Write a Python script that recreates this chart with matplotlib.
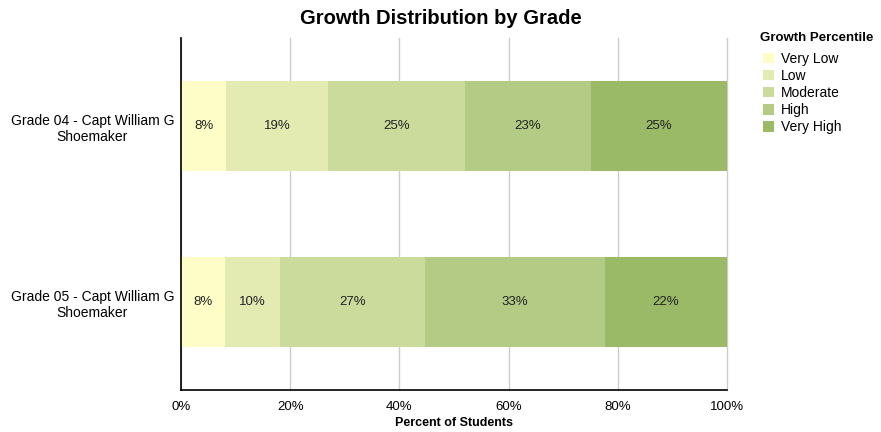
import matplotlib
matplotlib.use("Agg")
from matplotlib import pyplot as plt

plt.rcParams['font.family'] = ['Liberation Sans', 'DejaVu Sans']

grades = ["Grade 04 - Capt William G\nShoemaker", "Grade 05 - Capt William G\nShoemaker"]
levels = ["Very Low", "Low", "Moderate", "High", "Very High"]
colors = ["#FEFDC8", "#E3EBB3", "#CBDB9C", "#B4CB85", "#9BBA67"]
# percent of students per growth level, one list per grade
grade04 = [8.3, 18.6, 25.2, 22.9, 25.0]
grade05 = [8.1, 10.0, 26.6, 32.9, 22.4]
values = [grade04, grade05]
xticks = [0, 20, 40, 60, 80, 100]

fig = plt.figure(figsize=(8.81, 4.32), dpi=100)
ax = fig.add_axes([181/881, 1-390/432, 546/881, 352/432])

ys = range(len(grades))
lefts = [0] * len(grades)
for i, level in enumerate(levels):
	widths = [v[i] for v in values]
	bars = ax.barh(ys, widths, left=lefts, height=0.51, color=colors[i], label=level, zorder=2)
	for j, b in enumerate(bars):
		ax.text(lefts[j] + widths[j] / 2, j, f"{round(widths[j])}%", ha="center", va="center",
			fontsize=9.5, color="#222222", zorder=3)
	lefts = [l + w for l, w in zip(lefts, widths)]

ax.set_ylim(1.5, -0.5)
ax.set_xlim(0, 100)
ax.set_yticks(list(ys))
ax.set_yticklabels(grades, fontsize=10, multialignment="center")
ax.set_xticks(xticks)
ax.set_xticklabels([f"{t}%" for t in xticks], fontsize=9.5)
ax.tick_params(axis="x", length=0, pad=8)
ax.tick_params(axis="y", length=0, pad=5)
ax.xaxis.grid(True, color="#cccccc", linewidth=1, zorder=0)
for gl in ax.get_xgridlines():
	gl.set_clip_on(False)
ax.set_axisbelow(True)
for s in ["top", "right"]:
	ax.spines[s].set_visible(False)
for s in ["left", "bottom"]:
	ax.spines[s].set_linewidth(1.2)
	ax.spines[s].set_zorder(4)

ax.set_xlabel("Percent of Students", fontsize=9, fontweight="bold", labelpad=3)
fig.text(0.5, 1 - 18/432, "Growth Distribution by Grade", ha="center", va="center",
	fontsize=14.5, fontweight="bold")

# legend title drawn separately to get the wider gap above the entries
fig.text(760/881, 1 - 38/432, "Growth Percentile", ha="left", va="center",
	fontsize=9.5, fontweight="bold")
leg = ax.legend(loc="upper left", bbox_to_anchor=(752/881, 1 - 41/432), bbox_transform=fig.transFigure,
	frameon=False, fontsize=10, handlelength=0.75, handleheight=0.75,
	handletextpad=0.55, labelspacing=0.22, borderpad=0.3)

plt.savefig("out.png", dpi=100)
